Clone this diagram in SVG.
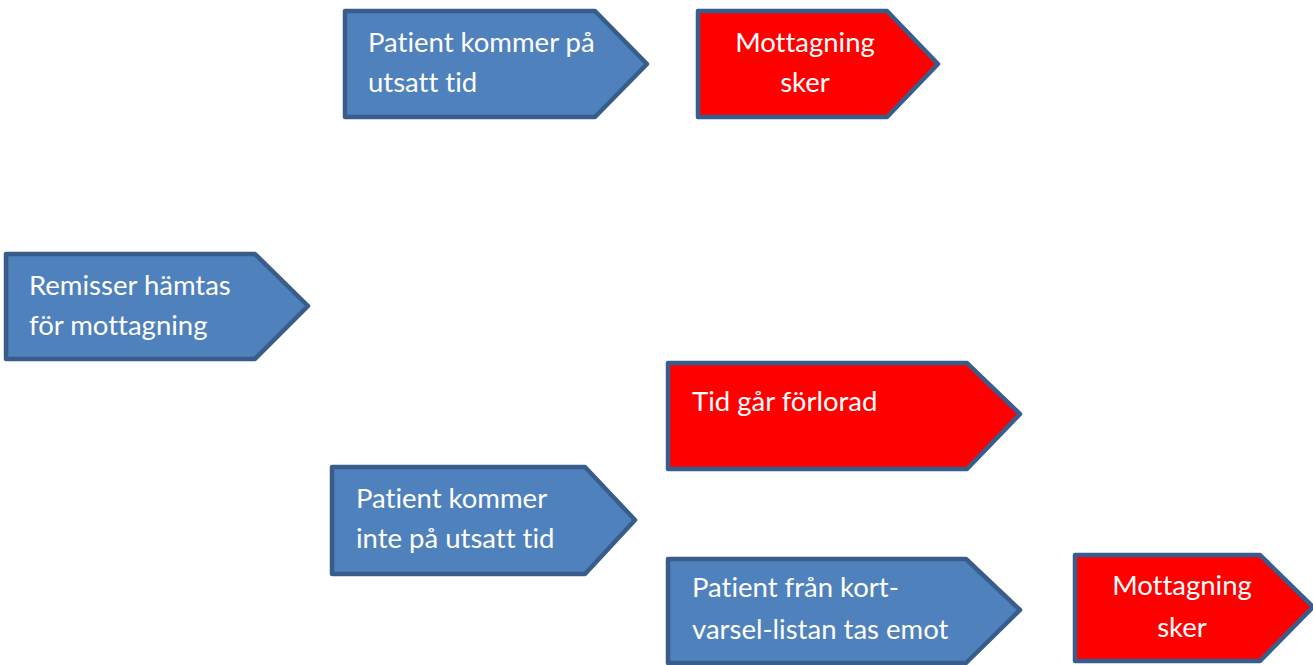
<svg xmlns="http://www.w3.org/2000/svg" width="1313" height="665" viewBox="0 0 1313 665">
  <style>
    .step { stroke: #385d8a; stroke-width: 4.5; stroke-linejoin: round; }
    .blue { fill: #4f81bd; }
    .red { fill: #ff0000; }
    text { font-family: Lato, "Liberation Sans", sans-serif; font-size: 27.5px; fill: #ffffff; font-variant-ligatures: none; }
    .mid { text-anchor: middle; }
  </style>
  <rect width="1313" height="665" fill="#ffffff"/>
  <g id="connectors"></g>

  <g id="remisser">
    <polygon class="step blue" points="6,254 255,254 308,306 255,359 6,359"/>
    <text x="29" y="295">Remisser hämtas</text>
    <text x="29" y="335">för mottagning</text>
  </g>

  <g id="patient-kommer">
    <polygon class="step blue" points="345,11 595,11 647,64 595,117 345,117"/>
    <text x="368" y="52">Patient kommer på</text>
    <text x="368" y="92">utsatt tid</text>
  </g>

  <g id="mottagning-1">
    <polygon class="step red" points="698,11 887,11 938,64 887,117 698,117"/>
    <text class="mid" x="805" y="52">Mottagning</text>
    <text class="mid" x="805" y="92">sker</text>
  </g>

  <g id="patient-kommer-inte">
    <polygon class="step blue" points="332,467 585,467 635,520 585,574 332,574"/>
    <text x="356" y="508">Patient kommer</text>
    <text x="356" y="548">inte på utsatt tid</text>
  </g>

  <g id="tid-forlorad">
    <polygon class="step red" points="668,363 967,363 1020,414 967,469 668,469"/>
    <text x="692" y="411">Tid går förlorad</text>
  </g>

  <g id="kortvarsel">
    <polygon class="step blue" points="668,559 966,559 1020,610 966,663 668,663"/>
    <text x="692" y="597">Patient från kort-</text>
    <text x="692" y="639">varsel-listan tas emot</text>
  </g>

  <g id="mottagning-2">
    <polygon class="step red" points="1075,555 1260,555 1313,607 1260,661 1075,661"/>
    <text class="mid" x="1182" y="595">Mottagning</text>
    <text class="mid" x="1182" y="637">sker</text>
  </g>
</svg>
